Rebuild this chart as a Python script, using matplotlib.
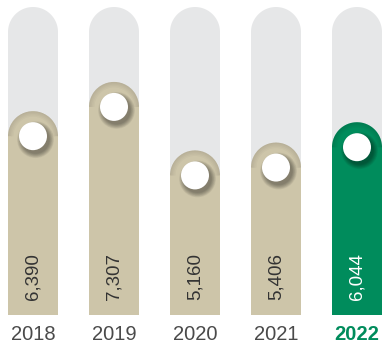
import matplotlib
matplotlib.use("Agg")
import matplotlib.pyplot as plt
import numpy as np
from matplotlib.path import Path
from matplotlib.patches import PathPatch, Ellipse

years = ["2018", "2019", "2020", "2021", "2022"]
values = [6390, 7307, 5160, 5406, 6044]
track_max = 9655

TAN = "#cdc5a9"
GREEN = "#008c5c"
TRACK = "#e6e7e8"
TEXT = "#4a4a4a"

W, H, DPI = 383, 350, 100
BOTTOM_PX = 35          # space for the year labels
STEP_PX = 81            # distance between bar centres
BAR_PX = 50             # bar width
FIRST_PX = 33           # centre of first bar
PX_PER_UNIT = 31.9 / 1000.0
DOT_PX = 14

plt.rcParams["font.family"] = ["Liberation Sans", "DejaVu Sans"]

fig = plt.figure(figsize=(W / DPI, H / DPI), dpi=DPI)
ax = fig.add_axes([0, BOTTOM_PX / H, 1, 1 - BOTTOM_PX / H])
x0 = -FIRST_PX / STEP_PX
ax.set_xlim(x0, x0 + W / STEP_PX)
ax.set_ylim(0, (H - BOTTOM_PX) / PX_PER_UNIT)
for s in ax.spines.values():
    s.set_visible(False)

bw = BAR_PX / STEP_PX
rx = bw / 2
ry = (BAR_PX / 2) / PX_PER_UNIT


def pill_path(xc, top):
    # rectangle with a semicircular cap, in data units
    cy = top - ry
    t = np.linspace(0, np.pi, 60)
    arc = np.column_stack([xc + rx * np.cos(t), cy + ry * np.sin(t)])
    verts = np.vstack([[xc + rx, 0], arc, [xc - rx, 0], [xc + rx, 0]])
    codes = [Path.MOVETO] + [Path.LINETO] * (len(verts) - 2) + [Path.CLOSEPOLY]
    return Path(verts, codes)


def cap_arc(xc, top):
    cy = top - ry
    t = np.linspace(0.0, np.pi, 60)
    return Path(np.column_stack([xc + rx * np.cos(t), cy + ry * np.sin(t)]))


dot_w = 2 * DOT_PX / STEP_PX
dot_h = 2 * DOT_PX / PX_PER_UNIT
sx = 2.5 / STEP_PX
sy = 3.5 / PX_PER_UNIT

for i, (yr, v) in enumerate(zip(years, values)):
    last = i == len(years) - 1
    color = GREEN if last else TAN

    ax.add_patch(PathPatch(pill_path(i, track_max), fc=TRACK, ec="none", zorder=1))
    bar = PathPatch(pill_path(i, v), fc=color, ec="none", zorder=2)
    ax.add_patch(bar)

    # faint inner shading along the rounded cap
    for lw in [8, 6, 4, 2]:
        rim = PathPatch(cap_arc(i, v), fc="none", ec="black", lw=lw,
                        alpha=0.025, zorder=3, capstyle="butt")
        rim.set_clip_path(bar)
        ax.add_patch(rim)

    cy = v - ry
    # blurred drop shadow under the dot
    for k in range(8):
        grow = 1 + 0.045 * k
        sh = Ellipse((i + sx, cy - sy), dot_w * grow, dot_h * grow,
                     fc="black", ec="none", alpha=0.05, zorder=4)
        sh.set_clip_path(bar)
        ax.add_patch(sh)
    ax.add_patch(Ellipse((i, cy), dot_w, dot_h, fc="white", ec="none", zorder=5))

    ax.text(i, 15 / PX_PER_UNIT, f"{v:,}", rotation=90, ha="center", va="bottom",
            fontsize=13.5, color="white" if last else "#333333", zorder=6)

ax.set_xticks(range(len(years)))
ax.set_xticklabels(years, fontsize=14.5, color=TEXT)
ax.tick_params(axis="x", length=0, pad=7)
ax.set_yticks([])
lbl = ax.get_xticklabels()[-1]
lbl.set_color(GREEN)
lbl.set_fontweight("bold")

fig.savefig("out.png", dpi=DPI)
